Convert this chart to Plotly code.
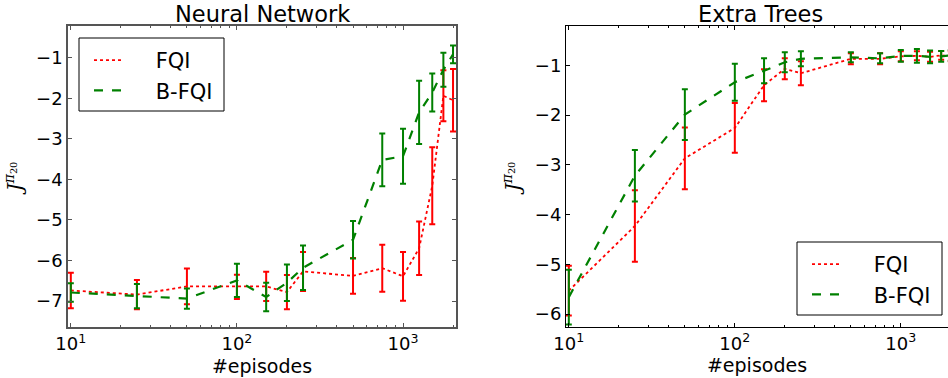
import plotly.graph_objects as go
import numpy as np

episodes = [10, 25, 50, 100, 150, 200, 250, 500, 750, 1000, 1250, 1500, 1750, 2000]

nn_fqi = [-6.74, -6.84, -6.64, -6.65, -6.64, -6.78, -6.27, -6.38, -6.19, -6.39, -5.70, -4.16, -1.94, -2.05]
nn_fqi_err = [0.44, 0.36, 0.44, 0.30, 0.36, 0.42, 0.48, 0.44, 0.58, 0.60, 0.66, 0.95, 0.63, 0.77]
nn_bfqi = [-6.79, -6.88, -6.94, -6.49, -6.90, -6.55, -6.18, -5.49, -3.52, -3.43, -2.35, -1.86, -1.30, -0.92]
nn_bfqi_err = [0.23, 0.30, 0.25, 0.41, 0.35, 0.45, 0.55, 0.46, 0.65, 0.68, 0.78, 0.47, 0.42, 0.22]

et_fqi = [-5.53, -4.23, -2.87, -2.26, -1.40, -1.07, -1.16, -0.87, -0.87, -0.82, -0.81, -0.83, -0.80, -0.82]
et_fqi_err = [0.50, 0.72, 0.62, 0.50, 0.32, 0.21, 0.24, 0.11, 0.11, 0.10, 0.09, 0.10, 0.09, 0.10]
et_bfqi = [-5.66, -3.22, -1.99, -1.34, -1.11, -0.94, -0.87, -0.84, -0.86, -0.81, -0.81, -0.83, -0.82, -0.80]
et_bfqi_err = [0.55, 0.52, 0.51, 0.37, 0.25, 0.20, 0.15, 0.10, 0.10, 0.12, 0.14, 0.13, 0.11, 0.11]

series_names = ["FQI", "B-FQI"]
x_ticks = [10, 100, 1000]
x_ticktext = ["10<sup>1</sup>", "10<sup>2</sup>", "10<sup>3</sup>"]
x_minor = [20, 30, 40, 50, 60, 70, 80, 90, 200, 300, 400, 500, 600, 700, 800, 900, 2000]

W, H = 948, 378
RED = "#ff0000"
GREEN = "#008000"
FONT = "DejaVu Sans"

fig = go.Figure()

def add_pair(xa, ya, fqi, fqi_e, bfqi, bfqi_e, legend):
    pad = "\u00a0" * 4
    fig.add_trace(go.Scatter(
        x=episodes, y=fqi, mode="lines", name=pad + series_names[0],
        line=dict(color=RED, width=1.8, dash="dot"),
        error_y=dict(type="data", array=fqi_e, color=RED, thickness=2, width=3),
        xaxis=xa, yaxis=ya, legend=legend))
    fig.add_trace(go.Scatter(
        x=episodes, y=bfqi, mode="lines", name=pad + series_names[1],
        line=dict(color=GREEN, width=2.2, dash="dash"),
        error_y=dict(type="data", array=bfqi_e, color=GREEN, thickness=2, width=3),
        xaxis=xa, yaxis=ya, legend=legend))

add_pair("x", "y", nn_fqi, nn_fqi_err, nn_bfqi, nn_bfqi_err, "legend")
add_pair("x2", "y2", et_fqi, et_fqi_err, et_bfqi, et_bfqi_err, "legend2")

def px_x(p):
    return p / W

def px_y(p):
    return 1 - p / H

xlo = 0.983
axis_common = dict(
    showgrid=False, zeroline=False, showline=True,
    ticks="inside", ticklen=4, tickwidth=1, automargin=False,
    tickfont=dict(family=FONT, size=18, color="black"),
)

left_dom = [px_x(68), px_x(456)]
right_dom = [px_x(566), 1.0]
y_dom = [px_y(327), px_y(26)]

right_hi = xlo + (948 - 566) / 166.0

ylab = "<i>J</i><sup><i>π</i><sub>20</sub></sup>"

fig.update_layout(
    template="none",
    width=W, height=H,
    margin=dict(l=0, r=0, t=0, b=0, autoexpand=False),
    paper_bgcolor="white", plot_bgcolor="white",
    showlegend=True,
    xaxis=dict(type="log", domain=left_dom, anchor="y", range=[xlo, 3.319], mirror="ticks",
               tickvals=x_ticks, ticktext=x_ticktext,
               minor=dict(tickvals=x_minor, ticklen=2, ticks="inside", tickcolor="#555"),
               linecolor="#555", linewidth=1.5, tickcolor="#555",
               title=dict(text="#episodes", font=dict(family=FONT, size=19, color="black"), standoff=6),
               **axis_common),
    yaxis=dict(domain=y_dom, anchor="x", range=[-7.64, -0.22], mirror="ticks",
               tickvals=[-7, -6, -5, -4, -3, -2, -1],
               linecolor="#555", linewidth=1.5, tickcolor="#555",
               title=dict(text=ylab, font=dict(family="DejaVu Serif", size=20, color="black"), standoff=8),
               **axis_common),
    xaxis2=dict(type="log", domain=right_dom, anchor="y2", range=[xlo, right_hi], mirror="ticks",
                tickvals=x_ticks, ticktext=x_ticktext,
                minor=dict(tickvals=x_minor, ticklen=2, ticks="inside", tickcolor="black"),
                linecolor="black", linewidth=1, tickcolor="black",
                title=dict(text="#episodes", font=dict(family=FONT, size=19, color="black"), standoff=6),
                **axis_common),
    yaxis2=dict(domain=y_dom, anchor="x2", range=[-6.26, -0.21], mirror=False,
                tickvals=[-6, -5, -4, -3, -2, -1],
                linecolor="black", linewidth=1, tickcolor="black",
                title=dict(text=ylab, font=dict(family="DejaVu Serif", size=20, color="black"), standoff=8),
                **axis_common),
    legend=dict(x=px_x(89), y=px_y(40), xanchor="left", yanchor="top",
                borderwidth=0, bgcolor="rgba(0,0,0,0)",
                font=dict(family=FONT, size=21, color="black"),
                tracegroupgap=0, traceorder="normal"),
    legend2=dict(x=px_x(807), y=px_y(244), xanchor="left", yanchor="top",
                 borderwidth=0, bgcolor="rgba(0,0,0,0)",
                 font=dict(family=FONT, size=21, color="black"),
                 tracegroupgap=0, traceorder="normal"),
    shapes=[
        dict(type="rect", xref="paper", yref="paper",
             x0=px_x(79), x1=px_x(224), y0=px_y(111), y1=px_y(38),
             line=dict(color="black", width=1), fillcolor="rgba(0,0,0,0)", layer="below"),
        dict(type="rect", xref="paper", yref="paper",
             x0=px_x(797), x1=px_x(942), y0=px_y(315), y1=px_y(242),
             line=dict(color="black", width=1), fillcolor="white", layer="below"),
    ],
    annotations=[
        dict(text="Neural Network", x=px_x(262), y=px_y(14), xref="paper", yref="paper",
             xanchor="center", yanchor="middle", showarrow=False,
             font=dict(family=FONT, size=22.5, color="black")),
        dict(text="Extra Trees", x=px_x(760), y=px_y(14), xref="paper", yref="paper",
             xanchor="center", yanchor="middle", showarrow=False,
             font=dict(family=FONT, size=22.5, color="black")),
    ],
)

fig.write_html("out.html")
